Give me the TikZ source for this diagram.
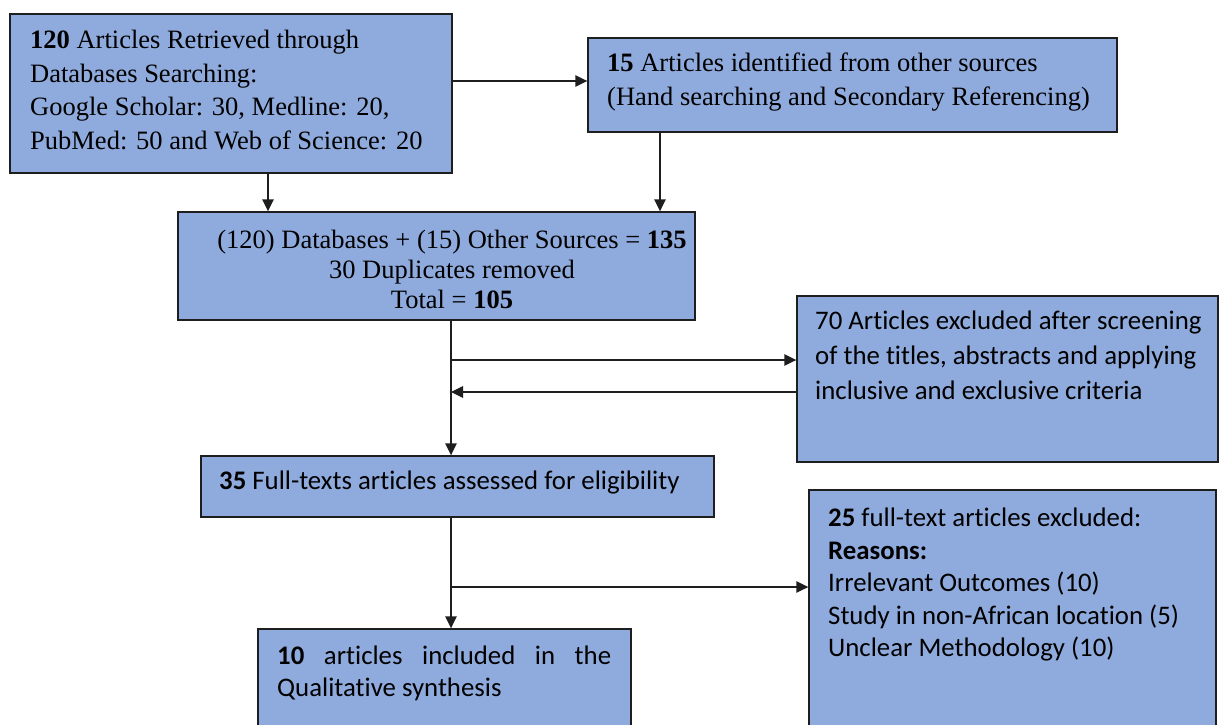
\documentclass[tikz,border=0pt]{standalone}
\usepackage{fontspec}
\setmainfont{Liberation Serif}
\newfontfamily\calibri[Ligatures=NoCommon]{Carlito}
\usetikzlibrary{arrows.meta}
\definecolor{boxfill}{HTML}{8FAADC}
\definecolor{boxline}{HTML}{1E1E1E}
\begin{document}
\begin{tikzpicture}[x=1pt,y=-1pt,
 flowbox/.style={draw=boxline, line width=1.4pt, fill=boxfill, inner sep=0pt},
 arr/.style={-{Triangle[length=12pt,width=11.5pt]}, line width=1.4pt, draw=boxline},
 serift/.style={font=\fontsize{26.5}{33.5}\selectfont, inner sep=0pt, align=left, anchor=north west},
 calt/.style={font=\calibri\fontsize{26.8}{35}\selectfont, inner sep=0pt, align=left, anchor=north west},
]
\useasboundingbox (0,0) rectangle (1219,725);
\fill[white] (0,0) rectangle (1219,725);
\clip (0,0) rectangle (1219,725);

% boxes
\node[flowbox, minimum width=442pt, minimum height=159pt] (A) at (231,93.5) {};
\node[flowbox, minimum width=529pt, minimum height=94pt] (B) at (852.5,85) {};
\node[flowbox, minimum width=517pt, minimum height=108pt] (C) at (436.5,266) {};
\node[flowbox, minimum width=421pt, minimum height=166pt] (D) at (1007.5,379) {};
\node[flowbox, minimum width=513pt, minimum height=61pt] (E) at (457.5,486.5) {};
\node[flowbox, minimum width=407pt, minimum height=270pt] (F) at (1012.5,625) {};
\node[flowbox, minimum width=373pt, minimum height=131pt] (G) at (444.5,694.5) {};

% texts
\node[serift] (At) at (30,30) {\textbf{120} Articles Retrieved through\\Databases Searching:\\Google Scholar: 30, Medline: 20,\\PubMed: 50 and Web of Science: 20};
\node[serift] (Bt) at (607,53) {\textbf{15} Articles identified from other sources\\(Hand searching and Secondary Referencing)};
\node[serift, anchor=north, align=center, font=\fontsize{26.5}{30}\selectfont] (Ct) at (452,230) {(120) Databases + (15) Other Sources = \textbf{135}\\30 Duplicates removed\\Total = \textbf{105}};
\node[calt] (Dt) at (815,311) {70 Articles excluded after screening\\of the titles, abstracts and applying\\inclusive and exclusive criteria};
\node[calt] (Et) at (219,471) {\textbf{35} Full-texts articles assessed for eligibility};
\node[calt, font=\calibri\fontsize{26.8}{32.5}\selectfont] (Ft) at (828,508) {\textbf{25} full-text articles excluded:\\\textbf{Reasons:}\\Irrelevant Outcomes (10)\\Study in non-African location (5)\\Unclear Methodology (10)};
\node[calt, text width=334pt, align=justify, font=\calibri\fontsize{26.8}{32}\selectfont] (Gt) at (277,646) {\textbf{10} articles included in the\linebreak Qualitative synthesis};

% connectors
\coordinate (ab) at (0,81);
\coordinate (xa) at (268,0);
\coordinate (xb) at (660,0);
\coordinate (xm) at (451,0);
\coordinate (y1) at (0,360);
\coordinate (y2) at (0,392);
\coordinate (y3) at (0,587);
\draw[arr] (A.east |- ab) -- (B.west |- ab);
\draw[arr] (A.south -| xa) -- (C.north -| xa);
\draw[arr] (B.south -| xb) -- (C.north -| xb);
\draw[arr] (C.south -| xm) -- (E.north -| xm);
\draw[arr] (xm |- y1) -- (D.west |- y1);
\draw[arr] (D.west |- y2) -- (xm |- y2);
\draw[arr] (E.south -| xm) -- (G.north -| xm);
\draw[arr] (xm |- y3) -- (F.west |- y3);
\end{tikzpicture}
\end{document}
